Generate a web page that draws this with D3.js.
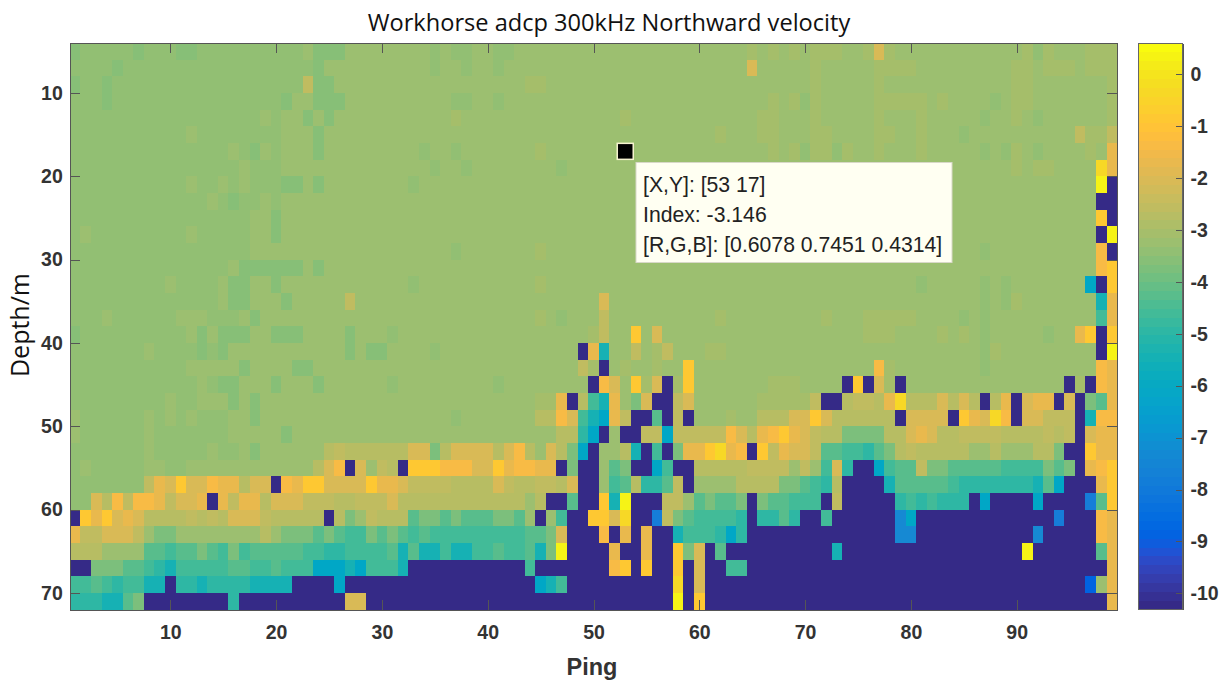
<!DOCTYPE html>
<html>
<head>
<meta charset="utf-8">
<script src="https://cdn.jsdelivr.net/npm/d3@7"></script>
<style>
    html, body { margin: 0; padding: 0; background: #fff; }
    svg { display: block; }
    .tick text { font-family: "Liberation Sans", Arial, sans-serif; font-weight: bold; font-size: 19.5px; fill: #333; }
    .axis path, .axis line { stroke: #555; shape-rendering: crispEdges; }
</style>
</head>
<body>
<div id="chart"></div>
<script>

var pingTicks = [10, 20, 30, 40, 50, 60, 70, 80, 90];
var depthTicks = [10, 20, 30, 40, 50, 60, 70];
var barTicks = [0, -1, -2, -3, -4, -5, -6, -7, -8, -9, -10];
var depths = [5, 7, 9, 11, 13, 15, 17, 19, 21, 23, 25, 27, 29, 31, 33, 35, 37, 39, 41, 43, 45, 47, 49, 51, 53, 55, 57, 59, 61, 63, 65, 67, 69, 71];

// velocity levels, one letter per cell in the rows below
var levelCodes = ['Y', 'y', 'O', 'o', 't', 'k', 'l', 'm', 'p', 'b', 'c', 'q', 'g', 'h', 'i', 'j', 's', 'n', 'u', 'v', 'w', 'd'];
var levelValues = [0.3, -0.4, -0.9, -1.3, -1.7, -2.1, -2.5, -2.8, -2.98, -3.2, -3.4, -3.6, -3.8, -4.2, -4.6, -5, -5.5, -6.1, -7.3, -7.8, -8.9, -10.3];

// one string per depth, 99 pings, grouped by ten
var velocityRows = [
    "qcccccqccc qqcccccccc ccbqqqbbbb bbbbcbccbb ccbbbbbbbb bbbbbbbbbb bbbbpbpbpb pppbbpkpbb bbbbbbbbbb pcpbbbppp",
    "ccccqccccc cccccccccc cccqbbbbbb bbbbcbbcbb cbbbbbbbbb bbbbbbbbbb bbbbkbbbbb pbbbbbpppp bbbbbbbbbp pbpppbppp",
    "qccqcccccc cccccccccc cclqqbbbbb bbbbbbbbbb bbbppbbbbb bbbbbbbbbb bbbbbbbbbb pbbbbbpbbb bbbbbbbbbp pbbbbbbbp",
    "cccqcccccc cccccccccc qbbqqqbbbb bbbbbbccbb cbbbbbbbbb bbbbbbbbbb bbbbbbpbpc pbbbbbpppp pbpbbbbcbp pbbbbbbbp",
    "cccccccccc ccccccccbc bbqbqbbbbb bbbbbbpbbb bbbbbbbbbb bbpbbbbbbb bbbbbppbbb pbbbbbpbbb pbbbbbcbbp bcbbbbbbp",
    "cccccccccc cbcccccccc bbbqbbbbbb bbbbbbbbbb bbbbbbbbbb bbbbbbbbbb bpbbbppbbb ppbbbbppbb pbbbcbbbbb bbbbblppl",
    "cccccccccc cccccbcqbc bbbqbbbbbb bbbcbbcbbb bbbbpbbbbb bbbbbbbbbb bbbbbbpbpc ppcpbbpbbb pbbbbbcbcp bcbbbbpbt",
    "cccccccccc ccccccbccc bbbbbbbbbb bbbbcbbcbb bbbbbbcbbb bbbbbbbbbb bbbbbbbbbb bbbbbbbbbb bbbbbbbbbp bppbbbbyt",
    "cccccccccc cbccbcbccc qqbqbbbbbb bbcbbbbbbb bbbbbbbbbb bbbbbbbbbb bbbbbbbbbb bbbbbbbbbb bbbbbbbbbb bbbbbbbYd",
    "cccccccccc cccbcqccbc bbbbbbbbbb bbbbbbbbbb bbbbbbbbbb bbbbbbbbbb bbbbbbbbbb bbbbbbbbbb bbbbbbbbbb bbbbbbbdd",
    "cccccccccc cccccccbbq bbbbbbbbbb bbbbbbbbbb bbbbbbbbbb bbbbbbbbbb bbbbbbbbbb bbbbbbbbbb bbbbbbbbbb bbbbbbbOd",
    "cbcccccccc cbcccccbbq bbbbbbbbbb bbbbbbbbbb bbbbbbbbbb bbbbbbbbbb bbbbbbbbbb bbbbbbbbbb bbbbbbbbbb bbbbbbbdY",
    "cccccccccc cccccccbbb bbbbbbbbbb bbbbbbcbbb bbbbpbbbbb bbbbbbbbbb bbbbbbbbbb bbbbbbbbbb bbbbbbcbbb bbbbbbbod",
    "cccccccccc cccccbqqqq qqbqbbbbbb bbbbbbbbbb bbbbbbbbbb bbbbbbbbbb bbbbbbbbbb bbbbbbbbbb bbbbbbbbbb bbbbbbboO",
    "cccccccccb ccccbqqbbq bbbbbbbbbb bbcbbbbbbb bbbbpbbbbb bbbbbbbbbb bbbbbbbbbb bbbbbbbbbb cbbbbbcbcb bbbbbbndO",
    "cccccccccc ccccbqqbbb qbbbbblbbb bbbbbbbbbb bbbbbbbbbb kbbbbbbbbb bbbbbbbbbb bbbbbbbbbb bbbbbbcbcp bbbbbbbst",
    "cccbcccccc bbbcccbqbb bbbbbbbbbb bbbbbbbbbb bbbbpbcbbb lbbbbbbbbb bpbbbbbbbb bpbbbppppp bbbbcbcbbb bbbbbbbit",
    "qccccccccc cbqbqqqbbq qqbbbbqbbb cbbbbbbbbb bbbbbbbbbp lbbObkbbbb bbbbbbbbbb bbbbbpppbb bbpbpbcbbb bbcbbtOdO",
    "cccccccbcc ccqcqbbbbb bbbbbbqbqq bbbbcbbbbb bbbbbbbbdt sbblbplbbb ppbbbbbbbb bbbbbbbbbb bbbbbbcpbb bbbbbbbdY",
    "cccccccccc cbbbbbqbbb bqqbbbbbbb bbbbbbbbbb bbbbbbbblp dbpbbpbbOb bbbbbbbbbb bbbbbbopbb bbbbbbcbbb bbbbbbbot",
    "cccccccccc ccbcqqbbbq bbbqbbbbbb cbbbbbbbbb cbbbbbbbbd okbOpkdpOb bbbbbbpppb bbbdOdkpdb bbbbbbbbbb bbbbdpdot",
    "cccccccccb ccbbbqbqbb bbbbbbbbbb bbbbbbbbbb bbbbpptdmi stbgkddlkb bbbbbppppp lddmllmtym mmkmkmdmtd kttdkdght",
    "bccccccbcb cbcccbbqbb bbbbbbbbbb bbbbbbcbbb bbbbmmokis ntlddhdldb bbpbbmmmkk Okmmmmmmdk kkkdOtkyod kkllldsoo",
    "bccccccbcc cccccbbbbb qbbbbbbbbb bbbbbbbbbb bbbbbbmmjn dbddllnlll llokmtoOtk lmmggggmmk tkmmllllmm mmlmldktt",
    "cccccccbcc cccbccbqbb bbbbmlmmmm mmkkgmkkkk mkombkmgnd bbmsdidgtt OytodOltkk lhhiijhgml mmmmmbbmbb bmmgddOtt",
    "cbcccccbbc cbbbbbbbbb bbbmkodkbl mdOOOoookk Otoottdgdd bhgddniddm mmmmllllbl bikjddnihh lgghhhhhii iighgdtoO",
    "cccccccltk Okkottmkkd otOOkkkkOt tkllllmmmm klmmllmkdd bihmjjhldb bbbmmmmggh ijmddddshh hhhijjjjjj jshndddtO",
    "cckmolootl kktdtlttmk kklllmmlll kmmmmmmmmm mmmbmddhdd OsYdddllbh ghhgdghhii idldddddji jijjjdnddd dnddddvhO",
    "dOtOktkmmm mlmlmkkklm mmmmdmgblm mmhgghghhh gghbdbiddO Okyddvlghi iiijdjjhjd diddddddun dddddddddd dddvdddot",
    "tllkkklbgg bbbbbbbbmb ggghghiigh ghihiiiiii iiihhgkddd odtdtddsii ijnjdddddd dddddddduu dddddddddd dudddddot",
    "mmmbbbbhhi hhghigihhh hhiijjiiii hshssissii hiihsgYddd dtddtddOgk dhdddddddd ddsddddddd dddddddddd Yddddddht",
    "ddggghhijs iiiiihhiih iiinnnsnii isdddddddd dddidddddd doOdOddOdk ddiidddddd dddddddddd dddddddddd ddddddddt",
    "iihijiissd jjsjjjjsss sddddndddd dddddddddd ddddnsiddd dddddddydk dddddddddd dddddddddd dddddddddd ddddddwbt",
    "jjjsshgddd dddddjdddd ddddddkkdd dddddddddd dddddddddd dddddddYdO dddddddddd dddddddddd dddddddddd ddddddddt"
];

// parula, 64 steps
var parula = [[.2081,.1663,.5292],[.2116,.1898,.5777],[.2123,.2138,.627],[.2081,.2386,.6771],[.1959,.2645,.7279],[.1707,.2919,.7792],[.1253,.3242,.8303],[.0591,.3598,.8683],
    [.0117,.3875,.882],[.006,.4086,.8828],[.0165,.4266,.8786],[.0329,.443,.872],[.0498,.4586,.8641],[.0629,.4737,.8554],[.0723,.4887,.8467],[.0779,.504,.8384],
    [.0793,.52,.8312],[.0749,.5375,.8263],[.0641,.557,.824],[.0488,.5772,.8228],[.0343,.5966,.8199],[.0265,.6137,.8135],[.0239,.6287,.8038],[.0231,.6418,.7913],
    [.0228,.6535,.7768],[.0267,.6642,.7607],[.0384,.6743,.7436],[.059,.6838,.7254],[.0843,.6928,.7062],[.1133,.7015,.6859],[.1453,.7098,.6646],[.1801,.7177,.6424],
    [.2178,.725,.6193],[.2586,.7317,.5954],[.3022,.7376,.5712],[.3482,.7424,.5473],[.3953,.7459,.5244],[.442,.7481,.5033],[.4871,.7491,.484],[.53,.7491,.4661],
    [.5709,.7485,.4494],[.6099,.7473,.4337],[.6473,.7456,.4188],[.6834,.7435,.4044],[.7184,.7411,.3905],[.7525,.7384,.3768],[.7858,.7356,.3633],[.8185,.7327,.3498],
    [.8507,.7299,.336],[.8824,.7274,.3217],[.9139,.7258,.3063],[.945,.7261,.2886],[.9739,.7314,.2666],[.9938,.7455,.2403],[.999,.7653,.2164],[.9955,.7861,.1967],
    [.988,.8066,.1794],[.9789,.8271,.1633],[.9697,.8481,.1475],[.9626,.8705,.1309],[.9589,.8949,.1132],[.9598,.9218,.0948],[.9661,.9514,.0755],[.9763,.9831,.0538]];

var titleText = "Workhorse adcp 300kHz Northward velocity";
var tipLines = ["[X,Y]: [53 17]", "Index: -3.146", "[R,G,B]: [0.6078 0.7451 0.4314]"];
var tipPing = 53, tipDepth = 17;

var width = 1220, height = 690;
var plot = { left: 69.8, right: 1117.2, top: 43, bottom: 609.7 };
var bar = { left: 1138, right: 1182.5, top: 43, bottom: 609 };

var svg = d3.select("#chart").append("svg")
    .attr("width", width)
    .attr("height", height);

// the reference is a slightly soft screenshot
svg.append("defs").append("filter")
    .attr("id", "soft")
    .append("feGaussianBlur")
    .attr("stdDeviation", 0.5);

var x = d3.scaleLinear().domain([0.5, 99.5]).range([plot.left, plot.right]);
var y = d3.scaleLinear().domain([4, 72]).range([plot.top, plot.bottom]);
var barY = d3.scaleLinear().domain([-10.3, 0.6]).range([bar.bottom, bar.top]);

var colors = parula.map(function (c) { return d3.rgb(c[0] * 255, c[1] * 255, c[2] * 255).formatHex(); });
var color = d3.scaleQuantize().domain([-10.3, 0.6]).range(colors);

var valueOf = {};
levelCodes.forEach(function (c, i) { valueOf[c] = levelValues[i]; });

var cells = [];
velocityRows.forEach(function (row, r) {
    row.replace(/ /g, "").split("").forEach(function (code, i) {
        cells.push({ ping: i + 1, depth: depths[r], value: valueOf[code] });
    });
});

// heat map
svg.append("g")
    .attr("filter", "url(#soft)")
    .selectAll("rect")
    .data(cells)
    .enter().append("rect")
    .attr("x", function (d) { return x(d.ping - 0.5); })
    .attr("y", function (d) { return y(d.depth - 1); })
    .attr("width", function (d) { return x(d.ping + 0.5) - x(d.ping - 0.5); })
    .attr("height", function (d) { return y(d.depth + 1) - y(d.depth - 1); })
    .attr("shape-rendering", "crispEdges")
    .style("fill", function (d) { return color(d.value); });

// axes, ticks point inwards on all four sides
var xAxis = d3.axisBottom(x).tickValues(pingTicks).tickSizeInner(-10).tickSizeOuter(0).tickPadding(15);
var yAxis = d3.axisLeft(y).tickValues(depthTicks).tickSizeInner(-10).tickSizeOuter(0).tickPadding(7);

svg.append("g").attr("class", "axis")
    .attr("transform", "translate(0," + plot.bottom + ")")
    .call(xAxis);
svg.append("g").attr("class", "axis")
    .attr("transform", "translate(" + plot.left + ",0)")
    .call(yAxis);
svg.append("g").attr("class", "axis")
    .attr("transform", "translate(0," + plot.top + ")")
    .call(d3.axisTop(x).tickValues(pingTicks).tickSizeInner(-10).tickSizeOuter(0).tickFormat(""));
svg.append("g").attr("class", "axis")
    .attr("transform", "translate(" + plot.right + ",0)")
    .call(d3.axisRight(y).tickValues(depthTicks).tickSizeInner(-10).tickSizeOuter(0).tickFormat(""));

// colorbar
svg.append("g").selectAll("rect")
    .data(colors)
    .enter().append("rect")
    .attr("x", bar.left)
    .attr("width", bar.right - bar.left)
    .attr("y", function (d, i) { return barY(-10.3 + (i + 1) * 10.9 / 64); })
    .attr("height", (bar.bottom - bar.top) / 64 + 0.5)
    .attr("shape-rendering", "crispEdges")
    .style("fill", function (d) { return d; });

svg.append("g").attr("class", "axis")
    .attr("transform", "translate(" + bar.right + ",0)")
    .call(d3.axisRight(barY).tickValues(barTicks).tickSizeInner(-7).tickSizeOuter(0).tickPadding(8).tickFormat(function (d) { return String(d); }));
svg.append("rect")
    .attr("x", bar.left).attr("y", bar.top)
    .attr("width", bar.right - bar.left).attr("height", bar.bottom - bar.top)
    .attr("fill", "none").attr("stroke", "#666").attr("shape-rendering", "crispEdges");

// data tip
svg.append("rect")
    .attr("x", x(tipPing) - 8).attr("y", y(tipDepth) - 8)
    .attr("width", 16).attr("height", 16)
    .attr("fill", "#000").attr("stroke", "#f6f3d0").attr("stroke-width", 1.5);

svg.append("rect")
    .attr("x", 636).attr("y", 162.5)
    .attr("width", 316).attr("height", 100)
    .attr("fill", "#fffff2").attr("stroke", "#d8d8c8");

svg.append("g").selectAll("text")
    .data(tipLines)
    .enter().append("text")
    .attr("x", 643)
    .attr("y", function (d, i) { return 192 + i * 30; })
    .attr("font-family", "'Liberation Sans', Arial, sans-serif")
    .attr("font-size", "21.2px")
    .attr("fill", "#222")
    .text(function (d) { return d; });

// title and axis labels
svg.append("text")
    .attr("x", 609).attr("y", 31)
    .attr("text-anchor", "middle")
    .attr("font-family", "'Open Sans', sans-serif")
    .attr("font-size", "23.6px")
    .attr("fill", "#111")
    .text(titleText);

svg.append("text")
    .attr("x", 592).attr("y", 675)
    .attr("text-anchor", "middle")
    .attr("font-family", "'Liberation Sans', Arial, sans-serif")
    .attr("font-weight", "bold")
    .attr("font-size", "23.5px")
    .attr("fill", "#333")
    .text("Ping");

svg.append("text")
    .attr("transform", "translate(29,325) rotate(-90)")
    .attr("text-anchor", "middle")
    .attr("font-family", "'Open Sans', sans-serif")
    .attr("font-size", "25px")
    .attr("fill", "#111")
    .text("Depth/m");

</script>
</body>
</html>
